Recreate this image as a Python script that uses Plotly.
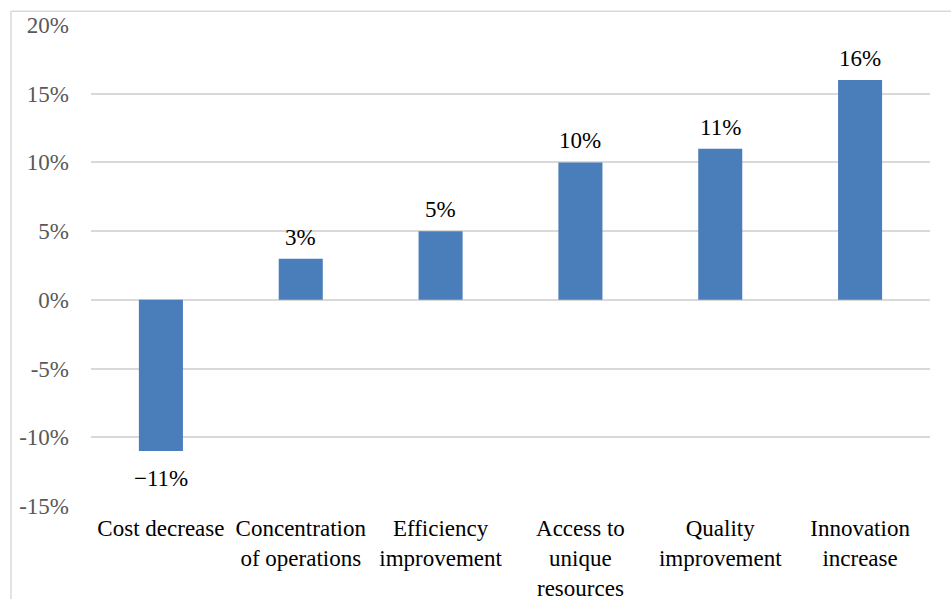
import plotly.graph_objects as go

categories = ["Cost decrease", "Concentration<br>of operations", "Efficiency<br>improvement",
              "Access to<br>unique<br>resources", "Quality<br>improvement", "Innovation<br>increase"]
values = [-11, 3, 5, 10, 11, 16]
labels = ["\u221211%", "3%", "5%", "10%", "11%", "16%"]
ytick_vals = [-15, -10, -5, 0, 5, 10, 15, 20]
ytick_text = ["-15%", "-10%", "-5%", "0%", "5%", "10%", "15%", "20%"]

SERIF = "Liberation Serif"
FS = 23

fig = go.Figure()
fig.add_trace(go.Bar(
    x=categories, y=values,
    marker=dict(color="#4A7EBB", line=dict(color="#4A7EBB", width=0)),
    width=0.315,
    hoverinfo="skip",
))

for c, v, t in zip(categories, values, labels):
    fig.add_annotation(
        x=c, y=v, text=t, showarrow=False,
        yanchor="bottom" if v >= 0 else "top",
        yshift=7 if v >= 0 else -13,
        font=dict(family=SERIF, size=FS, color="#000000"),
    )

fig.add_shape(type="line", xref="paper", yref="paper",
              x0=-0.0954, x1=1.05, y0=1.0285, y1=1.0285,
              line=dict(color="#d9d9d9", width=1.5))
fig.add_shape(type="line", xref="paper", yref="paper",
              x0=-0.0954, x1=-0.0954, y0=1.0285, y1=-0.2,
              line=dict(color="#d9d9d9", width=1.5))

fig.update_layout(
    width=951, height=599,
    margin=dict(l=91, r=21, t=25, b=93),
    paper_bgcolor="white", plot_bgcolor="white",
    showlegend=False,
    font=dict(family=SERIF, size=FS, color="#000000"),
    xaxis=dict(
        showgrid=False, showline=False, ticks="",
        tickfont=dict(family=SERIF, size=FS, color="#000000"),
        ticklabelstandoff=6,
        tickangle=0, automargin=False,
    ),
    yaxis=dict(
        range=[-15, 20],
        tickvals=ytick_vals, ticktext=ytick_text,
        showgrid=True, gridcolor="#d9d9d9", gridwidth=1.5,
        zeroline=True, zerolinecolor="#d9d9d9", zerolinewidth=2,
        showline=False, ticks="", automargin=False,
        tickfont=dict(family=SERIF, size=FS, color="#595959"),
        ticklabelstandoff=21,
    ),
)

fig.write_html("out.html")
